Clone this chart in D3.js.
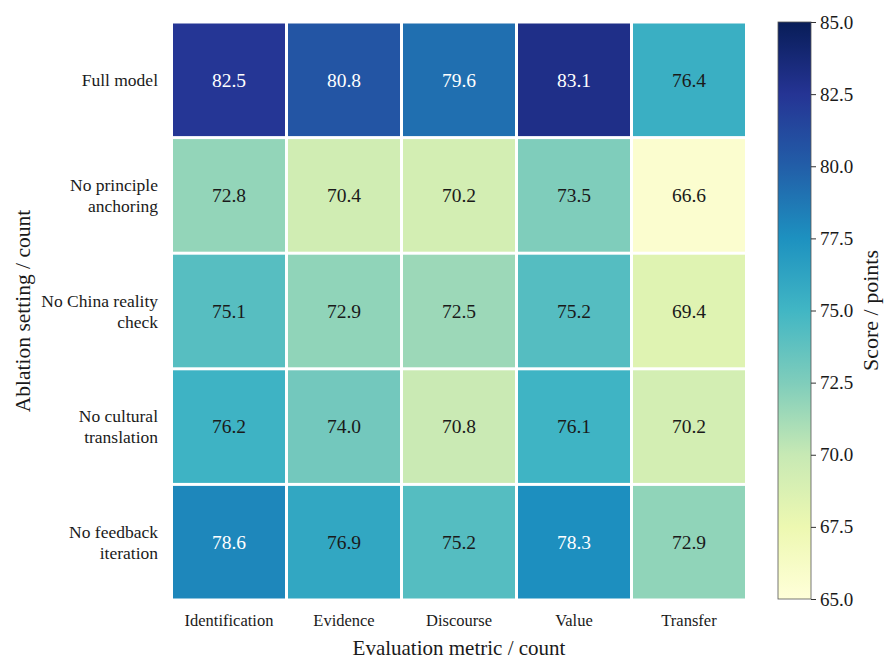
<!DOCTYPE html>
<html>
<head>
<meta charset="utf-8">
<script src="https://cdn.jsdelivr.net/npm/d3@7"></script>
<style>
  body { margin: 0; background: #fff; }
</style>
</head>
<body>
<script>
// data
var rows = ["Full model", "No principle\nanchoring", "No China reality\ncheck",
            "No cultural\ntranslation", "No feedback\niteration"];
var cols = ["Identification", "Evidence", "Discourse", "Value", "Transfer"];
var fullModel   = [82.5, 80.8, 79.6, 83.1, 76.4];
var noPrinciple = [72.8, 70.4, 70.2, 73.5, 66.6];
var noReality   = [75.1, 72.9, 72.5, 75.2, 69.4];
var noCultural  = [76.2, 74.0, 70.8, 76.1, 70.2];
var noFeedback  = [78.6, 76.9, 75.2, 78.3, 72.9];
var colorTicks  = [65.0, 67.5, 70.0, 72.5, 75.0, 77.5, 80.0, 82.5, 85.0];

var values = [fullModel, noPrinciple, noReality, noCultural, noFeedback];

var FONT = "'Liberation Serif', 'Times New Roman', serif";

// set the dimensions
var W = 889, H = 663;
var grid = {left: 171.5, right: 746.5, top: 22, bottom: 600};
var cbar = {left: 778, right: 811, top: 22, bottom: 599};

var svg = d3.select("body").append("svg")
    .attr("width", W)
    .attr("height", H)
    .attr("font-family", FONT);

// scales
var x = d3.scaleBand().domain(cols).range([grid.left, grid.right]);
var y = d3.scaleBand().domain(rows).range([grid.top, grid.bottom]);

// matplotlib YlGnBu is a linear ramp through the 9 brewer colours
var ramp = d3.schemeYlGnBu[9];
var color = d3.scaleLinear()
    .domain(d3.range(9).map(function(i) { return 65 + i * 20 / 8; }))
    .range(ramp)
    .interpolate(d3.interpolateRgb)
    .clamp(true);
// the cells in the picture come out a touch lighter than the bar at the low end
var cellColor = color.copy().domain([66, 68.5, 71, 73.5, 76, 78.2, 80.3, 82.6, 85]);

function luminance(c) {
  var rgb = d3.rgb(c);
  var f = function(v) {
    v /= 255;
    return v <= 0.03928 ? v / 12.92 : Math.pow((v + 0.055) / 1.055, 2.4);
  };
  return 0.2126 * f(rgb.r) + 0.7152 * f(rgb.g) + 0.0722 * f(rgb.b);
}

var cells = [];
values.forEach(function(r, i) {
  r.forEach(function(v, j) {
    cells.push({row: rows[i], col: cols[j], v: v});
  });
});

var gap = 3;
svg.selectAll("rect.cell")
    .data(cells)
  .enter().append("rect")
    .attr("class", "cell")
    .attr("x", function(d) { return x(d.col) + gap / 2; })
    .attr("y", function(d) { return y(d.row) + gap / 2; })
    .attr("width", x.bandwidth() - gap)
    .attr("height", y.bandwidth() - gap)
    .style("fill", function(d) { return cellColor(d.v); });

svg.selectAll("text.val")
    .data(cells)
  .enter().append("text")
    .attr("class", "val")
    .attr("x", function(d) { return x(d.col) + x.bandwidth() / 2; })
    .attr("y", function(d) { return y(d.row) + y.bandwidth() / 2; })
    .attr("dy", "0.35em")
    .attr("text-anchor", "middle")
    .style("font-family", FONT, "important")
    .style("font-size", "19.5px")
    .style("fill", function(d) { return luminance(cellColor(d.v)) > 0.28 ? "#1a1a1a" : "#ffffff"; })
    .text(function(d) { return d.v.toFixed(1); });

// row labels
var rowLab = svg.selectAll("text.rowlab")
    .data(rows)
  .enter().append("text")
    .attr("class", "rowlab")
    .attr("text-anchor", "end")
    .style("font-family", FONT, "important")
    .style("font-size", "17.5px")
    .style("fill", "#1a1a1a");

rowLab.each(function(d) {
  var lines = d.split("\n");
  var t = d3.select(this);
  var cy = y(d) + y.bandwidth() / 2;
  lines.forEach(function(l, k) {
    t.append("tspan")
        .attr("x", 158)
        .attr("y", cy + (k - (lines.length - 1) / 2) * 21)
        .attr("dy", "0.35em")
        .style("font-family", FONT, "important")
        .text(l);
  });
});

// column labels
svg.selectAll("text.collab")
    .data(cols)
  .enter().append("text")
    .attr("class", "collab")
    .attr("x", function(d) { return x(d) + x.bandwidth() / 2; })
    .attr("y", 620)
    .attr("dy", "0.35em")
    .attr("text-anchor", "middle")
    .style("font-family", FONT, "important")
    .style("font-size", "16.5px")
    .style("fill", "#1a1a1a")
    .text(function(d) { return d; });

// axis titles
svg.append("text")
    .attr("x", (grid.left + grid.right) / 2)
    .attr("y", 648)
    .attr("dy", "0.35em")
    .attr("text-anchor", "middle")
    .style("font-family", FONT, "important")
    .style("font-size", "21px")
    .style("fill", "#1a1a1a")
    .text("Evaluation metric / count");

svg.append("text")
    .attr("transform", "translate(22," + (grid.top + grid.bottom) / 2 + ") rotate(-90)")
    .attr("dy", "0.35em")
    .attr("text-anchor", "middle")
    .style("font-family", FONT, "important")
    .style("font-size", "21.5px")
    .style("fill", "#1a1a1a")
    .text("Ablation setting / count");

// colour bar
var defs = svg.append("defs");
var grad = defs.append("linearGradient")
    .attr("id", "cbgrad")
    .attr("x1", 0).attr("y1", 1).attr("x2", 0).attr("y2", 0);
ramp.forEach(function(c, i) {
  grad.append("stop")
      .attr("offset", (i / 8 * 100) + "%")
      .attr("stop-color", c);
});

svg.append("rect")
    .attr("x", cbar.left)
    .attr("y", cbar.top)
    .attr("width", cbar.right - cbar.left)
    .attr("height", cbar.bottom - cbar.top)
    .style("fill", "url(#cbgrad)")
    .style("stroke", "#555")
    .style("stroke-width", 0.8);

var cy = d3.scaleLinear().domain([65, 85]).range([cbar.bottom, cbar.top]);

svg.append("g")
    .attr("transform", "translate(" + cbar.right + ",0)")
    .call(d3.axisRight(cy).tickValues(colorTicks).tickSize(5).tickPadding(4)
      .tickFormat(d3.format(".1f")))
    .call(function(g) { g.select(".domain").remove(); })
    .call(function(g) {
      g.attr("font-family", FONT).attr("font-size", null);
      g.selectAll("line").style("stroke", "#333");
      g.selectAll("text")
          .style("font-family", FONT, "important")
          .style("font-size", "19px")
          .style("fill", "#1a1a1a");
    });

svg.append("text")
    .attr("transform", "translate(870," + (cbar.top + cbar.bottom) / 2 + ") rotate(-90)")
    .attr("dy", "0.35em")
    .attr("text-anchor", "middle")
    .style("font-family", FONT, "important")
    .style("font-size", "22px")
    .style("fill", "#1a1a1a")
    .text("Score / points");
</script>
</body>
</html>
